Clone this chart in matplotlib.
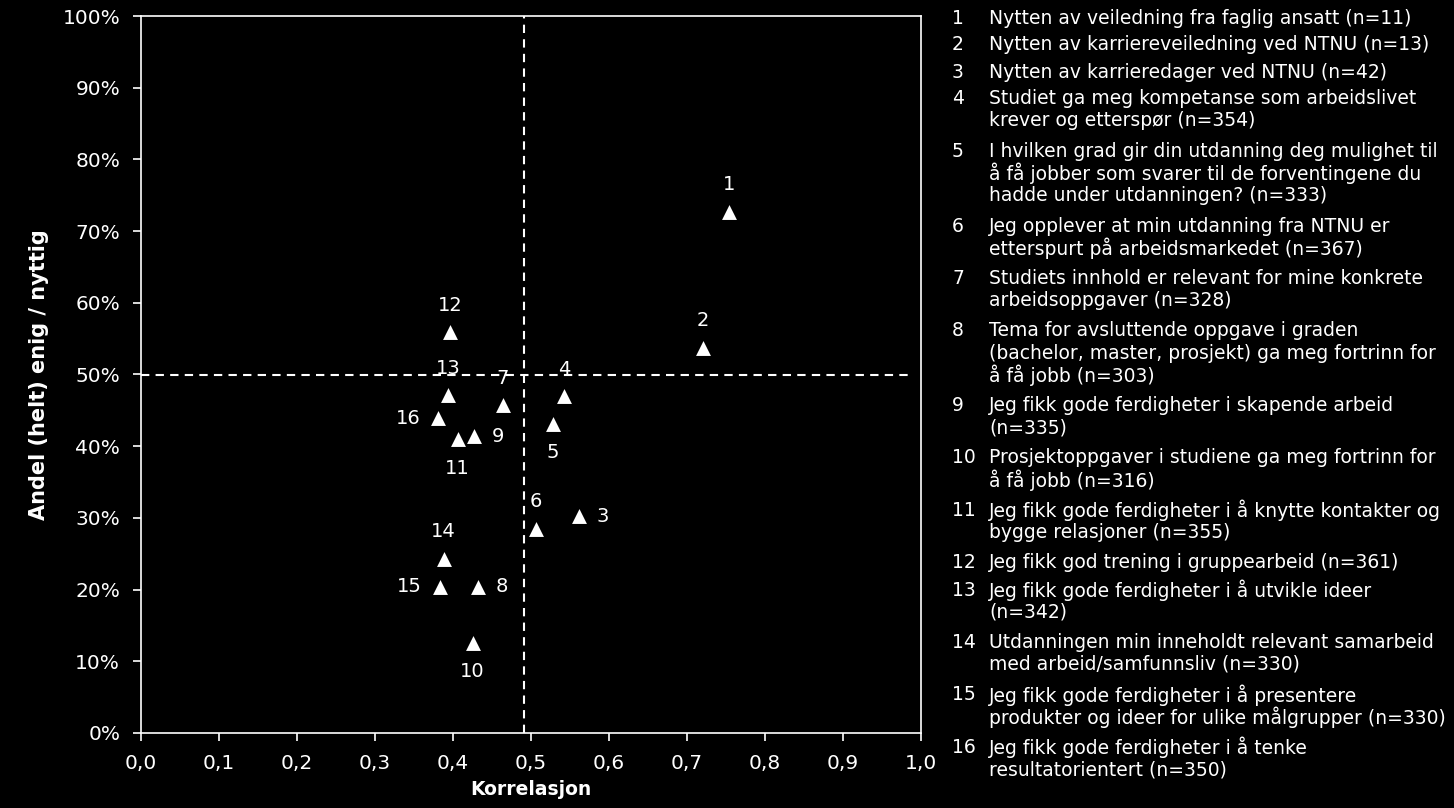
import matplotlib
matplotlib.use("Agg")
import matplotlib.pyplot as plt
from matplotlib.ticker import FuncFormatter, MultipleLocator

plt.rcParams['font.family'] = ['DejaVu Sans']

ids = [str(i) for i in range(1, 17)]
korrelasjon = [0.754, 0.720, 0.561, 0.542, 0.528, 0.506, 0.464, 0.432,
               0.427, 0.425, 0.406, 0.396, 0.394, 0.388, 0.383, 0.381]
andel = [0.727, 0.537, 0.302, 0.470, 0.431, 0.285, 0.457, 0.204,
         0.414, 0.126, 0.410, 0.559, 0.471, 0.243, 0.204, 0.439]
label_side = ['above', 'above', 'right', 'above', 'below', 'above', 'above', 'right',
              'right', 'below', 'below', 'above', 'above', 'above', 'left', 'left']

items = [
    "Nytten av veiledning fra faglig ansatt (n=11)",
    "Nytten av karriereveiledning ved NTNU (n=13)",
    "Nytten av karrieredager ved NTNU (n=42)",
    "Studiet ga meg kompetanse som arbeidslivet\nkrever og etterspør (n=354)",
    "I hvilken grad gir din utdanning deg mulighet til\nå få jobber som svarer til de forventingene du\nhadde under utdanningen? (n=333)",
    "Jeg opplever at min utdanning fra NTNU er\netterspurt på arbeidsmarkedet (n=367)",
    "Studiets innhold er relevant for mine konkrete\narbeidsoppgaver (n=328)",
    "Tema for avsluttende oppgave i graden\n(bachelor, master, prosjekt) ga meg fortrinn for\nå få jobb (n=303)",
    "Jeg fikk gode ferdigheter i skapende arbeid\n(n=335)",
    "Prosjektoppgaver i studiene ga meg fortrinn for\nå få jobb (n=316)",
    "Jeg fikk gode ferdigheter i å knytte kontakter og\nbygge relasjoner (n=355)",
    "Jeg fikk god trening i gruppearbeid (n=361)",
    "Jeg fikk gode ferdigheter i å utvikle ideer\n(n=342)",
    "Utdanningen min inneholdt relevant samarbeid\nmed arbeid/samfunnsliv (n=330)",
    "Jeg fikk gode ferdigheter i å presentere\nprodukter og ideer for ulike målgrupper (n=330)",
    "Jeg fikk gode ferdigheter i å tenke\nresultatorientert (n=350)",
]

ref_x = 0.491
ref_y = 0.50

W, H = 1454, 808
fig = plt.figure(figsize=(W / 100, H / 100), dpi=100, facecolor='black')
ax = fig.add_axes([141 / W, 1 - 733 / H, (921 - 141) / W, (733 - 16) / H])
ax.set_facecolor('black')

ax.scatter(korrelasjon, andel, marker='^', s=115, color='white', zorder=3, linewidths=0)

offsets = {'above': (0, 27), 'below': (0, -29), 'right': (24, 0), 'left': (-30, 0)}
for lab, x, y, side in zip(ids, korrelasjon, andel, label_side):
    dx, dy = offsets[side]
    ax.annotate(lab, (x, y), xytext=(dx, dy), textcoords='offset pixels',
                ha='center', va='center', color='white', fontsize=14)

ax.axvline(ref_x, color='white', lw=1.5, ls=(0, (4, 3)), zorder=2)
ax.plot([0, 0.985], [ref_y, ref_y], color='white', lw=1.5, ls=(0, (4, 3)), zorder=2)

ax.set_xlim(0, 1)
ax.set_ylim(0, 1)
ax.xaxis.set_major_locator(MultipleLocator(0.1))
ax.yaxis.set_major_locator(MultipleLocator(0.1))
ax.xaxis.set_major_formatter(FuncFormatter(lambda v, p: f"{v:.1f}".replace('.', ',')))
ax.yaxis.set_major_formatter(FuncFormatter(lambda v, p: f"{v*100:.0f}%"))
for sp in ax.spines.values():
    sp.set_color('white')
    sp.set_linewidth(1.2)
ax.tick_params(colors='white', labelcolor='white', labelsize=14.5, direction='out',
               length=6, width=1.2)
ax.tick_params(axis='y', pad=9)
ax.tick_params(axis='x', pad=9)

ax.set_xlabel("Korrelasjon", color='white', fontsize=13.5, fontweight='bold', labelpad=5)
ax.set_ylabel("Andel (helt) enig / nyttig", color='white', fontsize=15,
              fontweight='bold', labelpad=10)

# numbered list on the right
y = 18
line_h = 22
for i, txt in enumerate(items):
    lines = txt.split('\n')
    fig.text(952 / W, 1 - y / H, ids[i], color='white', fontsize=13.5, va='center', ha='left')
    for k, line in enumerate(lines):
        fig.text(989 / W, 1 - (y + k * line_h) / H, line, color='white', fontsize=13.5,
                 va='center', ha='left')
    y += len(lines) * line_h + (5 if len(lines) == 1 else 8.5)

fig.savefig("out.png", dpi=100, facecolor='black')
